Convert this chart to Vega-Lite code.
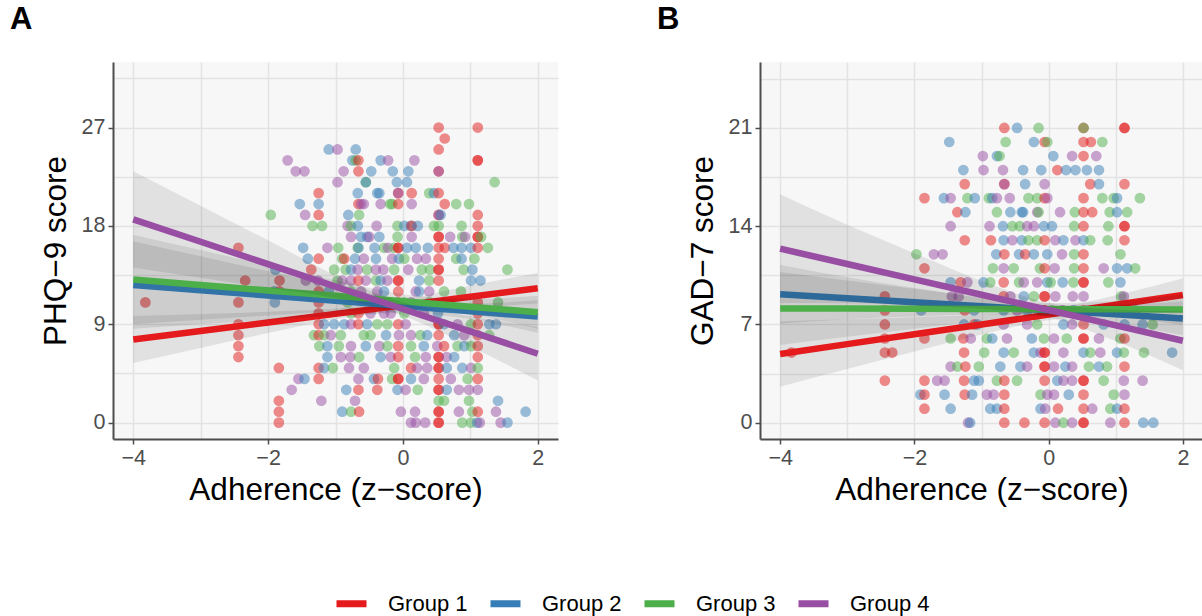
{
"$schema": "https://vega.github.io/schema/vega-lite/v6.json",
"background": "white",
"padding": {"left": 10, "top": 4, "right": 0, "bottom": 0},
"spacing": 99,
"config": {
  "font": "Liberation Sans",
  "view": {"stroke": null, "fill": "#f7f7f7"},
  "axis": {"domainColor": "#4d4d4d", "domainWidth": 2, "tickColor": "#4d4d4d", "tickWidth": 1.5, "tickSize": 5,
           "labelFontSize": 21.5, "labelColor": "#4d4d4d", "labelPadding": 3, "labelOverlap": false, "labelFlush": false,
           "titleFontSize": 31.5, "titleFontWeight": "normal", "titleColor": "black",
           "gridColor": "#e3e3e3", "gridWidth": 1.5},
  "axisX": {"titlePadding": 6},
  "axisY": {"titlePadding": 9},
  "title": {"fontSize": 31, "fontWeight": "bold", "color": "black", "anchor": "start", "frame": "bounds"}
},
"datasets": {
"ptsA": [
{"x":0.53,"y":27,"g":1},{"x":1.11,"y":27,"g":1},{"x":0.62,"y":26,"g":1},
{"x":-1.10,"y":25,"g":2},{"x":-0.97,"y":25,"g":4},{"x":-0.70,"y":25,"g":2},{"x":0.53,"y":25,"g":1},
{"x":-1.71,"y":24,"g":4},{"x":-0.75,"y":24,"g":2},{"x":-0.70,"y":24,"g":3},{"x":-0.66,"y":24,"g":1},{"x":-0.33,"y":24,"g":2},{"x":-0.22,"y":24,"g":4},{"x":0.17,"y":24,"g":4},{"x":1.11,"y":24,"g":1},{"x":1.11,"y":24,"g":1},
{"x":-1.59,"y":23,"g":4},{"x":-1.46,"y":23,"g":4},{"x":-0.88,"y":23,"g":4},{"x":-0.66,"y":23,"g":1},{"x":-0.47,"y":23,"g":2},{"x":-0.15,"y":23,"g":2},{"x":0.08,"y":23,"g":2},{"x":0.53,"y":23,"g":1},{"x":0.53,"y":23,"g":4},
{"x":-0.97,"y":22,"g":4},{"x":-0.55,"y":22,"g":3},{"x":-0.55,"y":22,"g":2},{"x":-0.09,"y":22,"g":2},{"x":0.06,"y":22,"g":2},{"x":1.36,"y":22,"g":3},
{"x":-1.25,"y":21,"g":1},{"x":-0.67,"y":21,"g":2},{"x":-0.38,"y":21,"g":2},{"x":-0.35,"y":21,"g":2},{"x":-0.07,"y":21,"g":1},{"x":-0.07,"y":21,"g":4},{"x":0.13,"y":21,"g":1},{"x":0.39,"y":21,"g":3},{"x":0.46,"y":21,"g":2},{"x":0.53,"y":21,"g":1},
{"x":-1.53,"y":20,"g":2},{"x":-1.25,"y":20,"g":2},{"x":-0.66,"y":20,"g":1},{"x":-0.62,"y":20,"g":4},{"x":-0.58,"y":20,"g":4},{"x":-0.33,"y":20,"g":4},{"x":-0.19,"y":20,"g":3},{"x":-0.16,"y":20,"g":3},{"x":-0.07,"y":20,"g":1},{"x":0.13,"y":20,"g":4},{"x":0.62,"y":20,"g":1},{"x":0.79,"y":20,"g":3},{"x":0.98,"y":20,"g":3},
{"x":-1.96,"y":19,"g":3},{"x":-1.45,"y":19,"g":4},{"x":-1.25,"y":19,"g":1},{"x":-0.81,"y":19,"g":2},{"x":-0.65,"y":19,"g":3},{"x":0.53,"y":19,"g":1},{"x":0.53,"y":19,"g":4},{"x":0.56,"y":19,"g":2},{"x":1.11,"y":19,"g":1},
{"x":-1.34,"y":18,"g":3},{"x":-1.20,"y":18,"g":3},{"x":-0.82,"y":18,"g":4},{"x":-0.77,"y":18,"g":3},{"x":-0.67,"y":18,"g":2},{"x":-0.39,"y":18,"g":4},{"x":-0.08,"y":18,"g":3},{"x":0.02,"y":18,"g":2},{"x":0.12,"y":18,"g":2},{"x":0.13,"y":18,"g":1},{"x":0.22,"y":18,"g":2},{"x":0.46,"y":18,"g":3},{"x":0.53,"y":18,"g":3},{"x":0.87,"y":18,"g":3},{"x":1.11,"y":18,"g":1},
{"x":-0.77,"y":17,"g":4},{"x":-0.62,"y":17,"g":2},{"x":-0.53,"y":17,"g":2},{"x":-0.50,"y":17,"g":4},{"x":-0.35,"y":17,"g":2},{"x":-0.08,"y":17,"g":3},{"x":0.13,"y":17,"g":4},{"x":0.53,"y":17,"g":1},{"x":0.53,"y":17,"g":1},{"x":0.70,"y":17,"g":4},{"x":0.88,"y":17,"g":3},{"x":0.92,"y":17,"g":4},{"x":1.11,"y":17,"g":1},{"x":1.11,"y":17,"g":1},{"x":1.16,"y":17,"g":3},
{"x":-2.44,"y":16,"g":1},{"x":-1.48,"y":16,"g":2},{"x":-1.12,"y":16,"g":4},{"x":-0.96,"y":16,"g":3},{"x":-0.67,"y":16,"g":3},{"x":-0.66,"y":16,"g":2},{"x":-0.42,"y":16,"g":2},{"x":-0.28,"y":16,"g":3},{"x":-0.22,"y":16,"g":4},{"x":-0.13,"y":16,"g":3},{"x":-0.07,"y":16,"g":1},{"x":-0.07,"y":16,"g":1},{"x":0.06,"y":16,"g":2},{"x":0.19,"y":16,"g":2},{"x":0.37,"y":16,"g":2},{"x":0.53,"y":16,"g":1},{"x":0.62,"y":16,"g":1},{"x":0.75,"y":16,"g":2},{"x":0.87,"y":16,"g":2},{"x":1.01,"y":16,"g":2},{"x":1.11,"y":16,"g":1},{"x":1.26,"y":16,"g":3},
{"x":-1.41,"y":15,"g":2},{"x":-1.25,"y":15,"g":1},{"x":-0.90,"y":15,"g":3},{"x":-0.87,"y":15,"g":1},{"x":-0.71,"y":15,"g":2},{"x":-0.58,"y":15,"g":4},{"x":-0.40,"y":15,"g":2},{"x":-0.16,"y":15,"g":4},{"x":-0.06,"y":15,"g":2},{"x":0.02,"y":15,"g":3},{"x":0.21,"y":15,"g":4},{"x":0.34,"y":15,"g":4},{"x":0.53,"y":15,"g":1},{"x":0.79,"y":15,"g":3},{"x":0.87,"y":15,"g":2},{"x":1.06,"y":15,"g":3},
{"x":-1.89,"y":14,"g":2},{"x":-1.36,"y":14,"g":1},{"x":-1.02,"y":14,"g":3},{"x":-0.85,"y":14,"g":3},{"x":-0.77,"y":14,"g":2},{"x":-0.67,"y":14,"g":4},{"x":-0.53,"y":14,"g":3},{"x":-0.40,"y":14,"g":4},{"x":-0.29,"y":14,"g":4},{"x":-0.13,"y":14,"g":3},{"x":0.08,"y":14,"g":4},{"x":0.28,"y":14,"g":3},{"x":0.40,"y":14,"g":3},{"x":0.53,"y":14,"g":1},{"x":0.53,"y":14,"g":1},{"x":0.90,"y":14,"g":3},{"x":1.03,"y":14,"g":2},{"x":1.55,"y":14,"g":3},
{"x":-2.34,"y":13,"g":1},{"x":-1.83,"y":13,"g":1},{"x":-1.44,"y":13,"g":4},{"x":-1.26,"y":13,"g":4},{"x":-0.97,"y":13,"g":3},{"x":-0.90,"y":13,"g":4},{"x":-0.77,"y":13,"g":4},{"x":-0.66,"y":13,"g":1},{"x":-0.55,"y":13,"g":4},{"x":-0.40,"y":13,"g":3},{"x":-0.33,"y":13,"g":2},{"x":-0.23,"y":13,"g":4},{"x":-0.07,"y":13,"g":1},{"x":-0.07,"y":13,"g":1},{"x":0.24,"y":13,"g":2},{"x":0.39,"y":13,"g":3},{"x":0.53,"y":13,"g":1},{"x":1.01,"y":13,"g":2},{"x":1.15,"y":13,"g":2},
{"x":-1.91,"y":12,"g":2},{"x":-1.83,"y":12,"g":1},{"x":-1.25,"y":12,"g":1},{"x":-1.10,"y":12,"g":2},{"x":-0.77,"y":12,"g":3},{"x":-0.62,"y":12,"g":4},{"x":-0.38,"y":12,"g":4},{"x":-0.28,"y":12,"g":2},{"x":-0.07,"y":12,"g":1},{"x":0.19,"y":12,"g":4},{"x":0.24,"y":12,"g":2},{"x":0.39,"y":12,"g":4},{"x":0.61,"y":12,"g":3},{"x":0.86,"y":12,"g":3},
{"x":-3.82,"y":11,"g":1},{"x":-2.44,"y":11,"g":1},{"x":-1.90,"y":11,"g":2},{"x":-1.25,"y":11,"g":1},{"x":-0.82,"y":11,"g":3},{"x":-0.38,"y":11,"g":1},{"x":-0.07,"y":11,"g":1},{"x":0.02,"y":11,"g":3},{"x":0.12,"y":11,"g":4},{"x":0.39,"y":11,"g":3},{"x":0.61,"y":11,"g":4},{"x":1.11,"y":11,"g":1},{"x":1.41,"y":11,"g":3},
{"x":-1.25,"y":10,"g":1},{"x":-0.77,"y":10,"g":3},{"x":-0.66,"y":10,"g":1},{"x":-0.48,"y":10,"g":4},{"x":-0.28,"y":10,"g":4},{"x":-0.18,"y":10,"g":4},{"x":0.02,"y":10,"g":3},{"x":0.31,"y":10,"g":4},{"x":0.52,"y":10,"g":2},{"x":1.11,"y":10,"g":1},
{"x":-2.44,"y":9,"g":1},{"x":-1.25,"y":9,"g":1},{"x":-1.17,"y":9,"g":2},{"x":-1.02,"y":9,"g":2},{"x":-0.87,"y":9,"g":2},{"x":-0.77,"y":9,"g":4},{"x":-0.66,"y":9,"g":1},{"x":-0.53,"y":9,"g":2},{"x":-0.38,"y":9,"g":3},{"x":-0.23,"y":9,"g":3},{"x":-0.07,"y":9,"g":1},{"x":0.04,"y":9,"g":4},{"x":0.53,"y":9,"g":1},{"x":0.53,"y":9,"g":1},{"x":0.61,"y":9,"g":2},{"x":0.81,"y":9,"g":4},{"x":1.01,"y":9,"g":3},{"x":1.11,"y":9,"g":1},{"x":1.28,"y":9,"g":2},{"x":1.38,"y":9,"g":2},
{"x":-2.44,"y":8,"g":1},{"x":-1.32,"y":8,"g":3},{"x":-1.25,"y":8,"g":1},{"x":-1.17,"y":8,"g":3},{"x":-1.07,"y":8,"g":4},{"x":-0.92,"y":8,"g":3},{"x":-0.58,"y":8,"g":3},{"x":-0.48,"y":8,"g":3},{"x":-0.25,"y":8,"g":2},{"x":-0.06,"y":8,"g":4},{"x":0.12,"y":8,"g":4},{"x":0.26,"y":8,"g":3},{"x":0.36,"y":8,"g":2},{"x":0.53,"y":8,"g":1},{"x":0.76,"y":8,"g":2},{"x":0.91,"y":8,"g":4},{"x":1.11,"y":8,"g":1},{"x":1.28,"y":8,"g":3},
{"x":-2.44,"y":7,"g":1},{"x":-1.24,"y":7,"g":3},{"x":-1.12,"y":7,"g":2},{"x":-0.95,"y":7,"g":3},{"x":-0.77,"y":7,"g":4},{"x":-0.55,"y":7,"g":2},{"x":-0.35,"y":7,"g":4},{"x":-0.23,"y":7,"g":3},{"x":-0.07,"y":7,"g":1},{"x":0.12,"y":7,"g":3},{"x":0.31,"y":7,"g":2},{"x":0.51,"y":7,"g":4},{"x":0.61,"y":7,"g":1},{"x":0.81,"y":7,"g":3},{"x":0.91,"y":7,"g":2},{"x":1.01,"y":7,"g":3},{"x":1.11,"y":7,"g":1},
{"x":-2.44,"y":6,"g":1},{"x":-1.12,"y":6,"g":2},{"x":-0.92,"y":6,"g":4},{"x":-0.78,"y":6,"g":4},{"x":-0.65,"y":6,"g":3},{"x":-0.33,"y":6,"g":2},{"x":-0.18,"y":6,"g":4},{"x":-0.07,"y":6,"g":1},{"x":0.18,"y":6,"g":3},{"x":0.34,"y":6,"g":4},{"x":0.53,"y":6,"g":1},{"x":0.53,"y":6,"g":1},{"x":0.65,"y":6,"g":4},{"x":0.76,"y":6,"g":2},{"x":1.11,"y":6,"g":1},
{"x":-1.84,"y":5,"g":1},{"x":-1.25,"y":5,"g":1},{"x":-1.17,"y":5,"g":2},{"x":-1.04,"y":5,"g":3},{"x":-0.80,"y":5,"g":4},{"x":-0.58,"y":5,"g":4},{"x":-0.13,"y":5,"g":3},{"x":0.12,"y":5,"g":1},{"x":0.21,"y":5,"g":4},{"x":0.36,"y":5,"g":4},{"x":0.53,"y":5,"g":1},{"x":0.53,"y":5,"g":1},{"x":0.65,"y":5,"g":2},{"x":0.88,"y":5,"g":2},{"x":1.01,"y":5,"g":4},{"x":1.11,"y":5,"g":3},
{"x":-1.55,"y":4,"g":4},{"x":-1.46,"y":4,"g":2},{"x":-1.25,"y":4,"g":1},{"x":-0.66,"y":4,"g":4},{"x":-0.43,"y":4,"g":2},{"x":-0.37,"y":4,"g":1},{"x":-0.16,"y":4,"g":3},{"x":-0.07,"y":4,"g":1},{"x":-0.07,"y":4,"g":1},{"x":0.12,"y":4,"g":2},{"x":0.31,"y":4,"g":4},{"x":0.53,"y":4,"g":1},{"x":0.71,"y":4,"g":4},{"x":0.96,"y":4,"g":3},{"x":1.11,"y":4,"g":1},
{"x":-1.65,"y":3,"g":4},{"x":-0.84,"y":3,"g":2},{"x":-0.66,"y":3,"g":1},{"x":-0.38,"y":3,"g":1},{"x":-0.08,"y":3,"g":2},{"x":0.04,"y":3,"g":4},{"x":0.22,"y":3,"g":3},{"x":0.53,"y":3,"g":1},{"x":0.53,"y":3,"g":1},{"x":0.65,"y":3,"g":2},{"x":0.83,"y":3,"g":4},{"x":0.98,"y":3,"g":4},{"x":1.11,"y":3,"g":4},
{"x":-1.84,"y":2,"g":1},{"x":-1.21,"y":2,"g":4},{"x":-0.71,"y":2,"g":4},{"x":0.53,"y":2,"g":3},{"x":0.61,"y":2,"g":3},{"x":0.98,"y":2,"g":3},{"x":1.41,"y":2,"g":2},
{"x":-1.84,"y":1,"g":1},{"x":-0.90,"y":1,"g":2},{"x":-0.77,"y":1,"g":3},{"x":-0.65,"y":1,"g":1},{"x":-0.03,"y":1,"g":4},{"x":0.18,"y":1,"g":4},{"x":0.53,"y":1,"g":1},{"x":0.53,"y":1,"g":1},{"x":0.83,"y":1,"g":4},{"x":1.03,"y":1,"g":3},{"x":1.11,"y":1,"g":1},{"x":1.38,"y":1,"g":4},{"x":1.82,"y":1,"g":2},
{"x":-1.84,"y":0,"g":1},{"x":0.12,"y":0,"g":4},{"x":0.19,"y":0,"g":4},{"x":0.33,"y":0,"g":4},{"x":0.53,"y":0,"g":1},{"x":0.53,"y":0,"g":1},{"x":0.88,"y":0,"g":3},{"x":1.01,"y":0,"g":3},{"x":1.10,"y":0,"g":2},{"x":1.14,"y":0,"g":4},{"x":1.45,"y":0,"g":4},{"x":1.55,"y":0,"g":2}
],
"ptsB": [
{"x":-0.66,"y":21,"g":1},{"x":-0.47,"y":21,"g":2},{"x":-0.15,"y":21,"g":3},{"x":0.52,"y":21,"g":1},{"x":0.52,"y":21,"g":3},{"x":1.13,"y":21,"g":1},{"x":1.13,"y":21,"g":1},
{"x":-1.48,"y":20,"g":2},{"x":-0.64,"y":20,"g":3},{"x":-0.22,"y":20,"g":2},{"x":-0.06,"y":20,"g":1},{"x":-0.02,"y":20,"g":3},{"x":0.52,"y":20,"g":1},{"x":0.63,"y":20,"g":1},{"x":0.80,"y":20,"g":3},
{"x":-0.98,"y":19,"g":4},{"x":-0.77,"y":19,"g":2},{"x":-0.73,"y":19,"g":3},{"x":0.07,"y":19,"g":2},{"x":0.35,"y":19,"g":4},{"x":0.52,"y":19,"g":1},{"x":0.71,"y":19,"g":4},
{"x":-1.27,"y":18,"g":2},{"x":-0.97,"y":18,"g":4},{"x":-0.68,"y":18,"g":4},{"x":-0.38,"y":18,"g":2},{"x":-0.11,"y":18,"g":2},{"x":0.13,"y":18,"g":1},{"x":0.26,"y":18,"g":2},{"x":0.40,"y":18,"g":2},{"x":0.57,"y":18,"g":2},{"x":0.75,"y":18,"g":2},
{"x":-1.25,"y":17,"g":1},{"x":-0.66,"y":17,"g":1},{"x":-0.66,"y":17,"g":4},{"x":-0.35,"y":17,"g":2},{"x":-0.06,"y":17,"g":4},{"x":0.62,"y":17,"g":1},{"x":0.75,"y":17,"g":2},{"x":1.13,"y":17,"g":1},
{"x":-1.85,"y":16,"g":1},{"x":-1.56,"y":16,"g":2},{"x":-1.46,"y":16,"g":4},{"x":-1.21,"y":16,"g":3},{"x":-1.10,"y":16,"g":2},{"x":-0.89,"y":16,"g":3},{"x":-0.84,"y":16,"g":2},{"x":-0.77,"y":16,"g":4},{"x":-0.58,"y":16,"g":4},{"x":-0.30,"y":16,"g":3},{"x":-0.17,"y":16,"g":3},{"x":-0.06,"y":16,"g":1},{"x":-0.02,"y":16,"g":4},{"x":0.52,"y":16,"g":1},{"x":0.80,"y":16,"g":3},{"x":0.97,"y":16,"g":3},{"x":1.02,"y":16,"g":2},{"x":1.36,"y":16,"g":3},
{"x":-1.36,"y":15,"g":1},{"x":-1.24,"y":15,"g":2},{"x":-0.77,"y":15,"g":3},{"x":-0.57,"y":15,"g":2},{"x":-0.40,"y":15,"g":2},{"x":-0.38,"y":15,"g":2},{"x":-0.17,"y":15,"g":4},{"x":-0.15,"y":15,"g":3},{"x":0.17,"y":15,"g":4},{"x":0.39,"y":15,"g":3},{"x":0.52,"y":15,"g":1},{"x":0.65,"y":15,"g":1},{"x":0.91,"y":15,"g":3},{"x":1.02,"y":15,"g":2},{"x":1.17,"y":15,"g":3},
{"x":-1.46,"y":14,"g":4},{"x":-0.88,"y":14,"g":4},{"x":-0.68,"y":14,"g":2},{"x":-0.54,"y":14,"g":3},{"x":-0.43,"y":14,"g":3},{"x":-0.32,"y":14,"g":4},{"x":-0.22,"y":14,"g":4},{"x":-0.07,"y":14,"g":2},{"x":0.05,"y":14,"g":2},{"x":0.38,"y":14,"g":3},{"x":0.52,"y":14,"g":1},{"x":0.89,"y":14,"g":3},{"x":1.13,"y":14,"g":1},{"x":1.13,"y":14,"g":1},
{"x":-1.25,"y":13,"g":1},{"x":-0.86,"y":13,"g":1},{"x":-0.67,"y":13,"g":2},{"x":-0.54,"y":13,"g":4},{"x":-0.40,"y":13,"g":2},{"x":-0.30,"y":13,"g":3},{"x":-0.17,"y":13,"g":3},{"x":-0.06,"y":13,"g":1},{"x":0.10,"y":13,"g":4},{"x":0.22,"y":13,"g":2},{"x":0.40,"y":13,"g":4},{"x":0.52,"y":13,"g":2},{"x":0.62,"y":13,"g":3},{"x":0.88,"y":13,"g":3},{"x":1.13,"y":13,"g":1},
{"x":-1.97,"y":12,"g":3},{"x":-1.71,"y":12,"g":4},{"x":-1.58,"y":12,"g":4},{"x":-0.78,"y":12,"g":2},{"x":-0.66,"y":12,"g":1},{"x":-0.44,"y":12,"g":2},{"x":-0.35,"y":12,"g":1},{"x":-0.22,"y":12,"g":2},{"x":-0.02,"y":12,"g":2},{"x":0.20,"y":12,"g":4},{"x":0.38,"y":12,"g":3},{"x":0.52,"y":12,"g":1},{"x":1.07,"y":12,"g":3},
{"x":-1.85,"y":11,"g":1},{"x":-0.83,"y":11,"g":3},{"x":-0.67,"y":11,"g":4},{"x":-0.52,"y":11,"g":3},{"x":-0.13,"y":11,"g":3},{"x":-0.06,"y":11,"g":1},{"x":0.09,"y":11,"g":4},{"x":0.38,"y":11,"g":3},{"x":0.52,"y":11,"g":1},{"x":0.82,"y":11,"g":4},{"x":1.02,"y":11,"g":2},{"x":1.17,"y":11,"g":2},{"x":1.29,"y":11,"g":3},
{"x":-1.46,"y":10,"g":2},{"x":-1.31,"y":10,"g":1},{"x":-1.21,"y":10,"g":4},{"x":-0.97,"y":10,"g":2},{"x":-0.87,"y":10,"g":3},{"x":-0.67,"y":10,"g":1},{"x":-0.44,"y":10,"g":3},{"x":-0.37,"y":10,"g":4},{"x":-0.17,"y":10,"g":4},{"x":-0.02,"y":10,"g":2},{"x":0.03,"y":10,"g":3},{"x":0.21,"y":10,"g":2},{"x":0.37,"y":10,"g":3},{"x":0.52,"y":10,"g":1},{"x":0.52,"y":10,"g":1},{"x":0.89,"y":10,"g":3},{"x":1.07,"y":10,"g":2},
{"x":-2.44,"y":9,"g":1},{"x":-1.44,"y":9,"g":4},{"x":-1.34,"y":9,"g":4},{"x":-0.67,"y":9,"g":1},{"x":-0.57,"y":9,"g":4},{"x":-0.37,"y":9,"g":2},{"x":-0.22,"y":9,"g":3},{"x":-0.06,"y":9,"g":1},{"x":-0.06,"y":9,"g":1},{"x":0.10,"y":9,"g":4},{"x":0.36,"y":9,"g":4},{"x":0.52,"y":9,"g":4},{"x":1.08,"y":9,"g":3},{"x":1.12,"y":9,"g":4},
{"x":-2.44,"y":8,"g":1},{"x":-1.90,"y":8,"g":2},{"x":-1.25,"y":8,"g":1},{"x":-1.11,"y":8,"g":2},{"x":-0.67,"y":8,"g":2},{"x":-0.47,"y":8,"g":4},{"x":-0.32,"y":8,"g":2},{"x":-0.06,"y":8,"g":1},{"x":-0.06,"y":8,"g":1},{"x":0.05,"y":8,"g":3},{"x":0.21,"y":8,"g":4},{"x":0.37,"y":8,"g":2},{"x":0.52,"y":8,"g":1},{"x":0.67,"y":8,"g":1},{"x":0.88,"y":8,"g":2},{"x":1.12,"y":8,"g":3},{"x":1.29,"y":8,"g":3},
{"x":-2.44,"y":7,"g":1},{"x":-1.26,"y":7,"g":2},{"x":-1.11,"y":7,"g":1},{"x":-1.06,"y":7,"g":2},{"x":-0.67,"y":7,"g":4},{"x":-0.32,"y":7,"g":4},{"x":-0.17,"y":7,"g":3},{"x":0.22,"y":7,"g":2},{"x":0.35,"y":7,"g":4},{"x":0.52,"y":7,"g":1},{"x":0.82,"y":7,"g":2},{"x":1.13,"y":7,"g":2},{"x":1.40,"y":7,"g":2},{"x":1.55,"y":7,"g":3},
{"x":-2.44,"y":6,"g":1},{"x":-1.85,"y":6,"g":1},{"x":-1.46,"y":6,"g":3},{"x":-1.27,"y":6,"g":1},{"x":-1.16,"y":6,"g":4},{"x":-0.92,"y":6,"g":3},{"x":-0.84,"y":6,"g":2},{"x":-0.62,"y":6,"g":4},{"x":-0.25,"y":6,"g":2},{"x":-0.07,"y":6,"g":3},{"x":0.08,"y":6,"g":4},{"x":0.27,"y":6,"g":3},{"x":0.52,"y":6,"g":1},{"x":0.52,"y":6,"g":1},{"x":0.75,"y":6,"g":4},{"x":1.07,"y":6,"g":3},{"x":1.13,"y":6,"g":1},
{"x":-3.83,"y":5,"g":1},{"x":-2.44,"y":5,"g":1},{"x":-2.33,"y":5,"g":1},{"x":-1.26,"y":5,"g":1},{"x":-0.96,"y":5,"g":3},{"x":-0.67,"y":5,"g":2},{"x":-0.52,"y":5,"g":3},{"x":-0.22,"y":5,"g":2},{"x":-0.12,"y":5,"g":4},{"x":-0.06,"y":5,"g":1},{"x":-0.06,"y":5,"g":1},{"x":0.22,"y":5,"g":4},{"x":0.52,"y":5,"g":2},{"x":0.62,"y":5,"g":3},{"x":0.77,"y":5,"g":4},{"x":1.02,"y":5,"g":2},{"x":1.12,"y":5,"g":3},{"x":1.42,"y":5,"g":3},{"x":1.84,"y":5,"g":2},
{"x":-1.46,"y":4,"g":4},{"x":-1.36,"y":4,"g":3},{"x":-1.24,"y":4,"g":1},{"x":-1.04,"y":4,"g":3},{"x":-0.72,"y":4,"g":2},{"x":-0.42,"y":4,"g":2},{"x":-0.32,"y":4,"g":4},{"x":-0.06,"y":4,"g":1},{"x":-0.06,"y":4,"g":1},{"x":0.08,"y":4,"g":4},{"x":0.25,"y":4,"g":2},{"x":0.35,"y":4,"g":4},{"x":0.60,"y":4,"g":3},{"x":0.75,"y":4,"g":2},{"x":0.87,"y":4,"g":3},{"x":1.13,"y":4,"g":1},
{"x":-2.44,"y":3,"g":1},{"x":-1.85,"y":3,"g":1},{"x":-1.66,"y":3,"g":4},{"x":-1.55,"y":3,"g":4},{"x":-1.26,"y":3,"g":1},{"x":-1.11,"y":3,"g":2},{"x":-1.04,"y":3,"g":2},{"x":-0.77,"y":3,"g":3},{"x":-0.66,"y":3,"g":1},{"x":-0.47,"y":3,"g":3},{"x":-0.06,"y":3,"g":1},{"x":0.13,"y":3,"g":2},{"x":0.22,"y":3,"g":4},{"x":0.35,"y":3,"g":4},{"x":0.52,"y":3,"g":1},{"x":0.52,"y":3,"g":1},{"x":0.82,"y":3,"g":3},{"x":1.12,"y":3,"g":4},{"x":1.40,"y":3,"g":4},
{"x":-1.91,"y":2,"g":2},{"x":-1.85,"y":2,"g":1},{"x":-1.55,"y":2,"g":2},{"x":-1.25,"y":2,"g":1},{"x":-1.14,"y":2,"g":2},{"x":-0.92,"y":2,"g":4},{"x":-0.82,"y":2,"g":4},{"x":-0.66,"y":2,"g":1},{"x":-0.12,"y":2,"g":3},{"x":-0.02,"y":2,"g":4},{"x":0.08,"y":2,"g":4},{"x":0.30,"y":2,"g":2},{"x":0.52,"y":2,"g":1},{"x":0.97,"y":2,"g":3},{"x":1.13,"y":2,"g":4},
{"x":-1.85,"y":1,"g":1},{"x":-1.46,"y":1,"g":2},{"x":-0.87,"y":1,"g":2},{"x":-0.77,"y":1,"g":2},{"x":-0.66,"y":1,"g":1},{"x":-0.12,"y":1,"g":2},{"x":-0.05,"y":1,"g":4},{"x":0.14,"y":1,"g":1},{"x":0.52,"y":1,"g":1},{"x":0.65,"y":1,"g":4},{"x":0.92,"y":1,"g":3},{"x":1.02,"y":1,"g":2},{"x":1.13,"y":1,"g":1},
{"x":-1.20,"y":0,"g":4},{"x":-1.17,"y":0,"g":2},{"x":-0.66,"y":0,"g":1},{"x":-0.36,"y":0,"g":1},{"x":-0.06,"y":0,"g":1},{"x":0.10,"y":0,"g":4},{"x":0.22,"y":0,"g":3},{"x":0.35,"y":0,"g":4},{"x":0.52,"y":0,"g":1},{"x":0.52,"y":0,"g":1},{"x":0.92,"y":0,"g":4},{"x":1.13,"y":0,"g":1},{"x":1.41,"y":0,"g":2},{"x":1.56,"y":0,"g":2}
],
"fitA": [
{"g":1,"x":-4,"f":7.6,"lo":5.45,"hi":9.75},{"g":1,"x":-3,"f":8.38,"lo":6.83,"hi":9.93},{"g":1,"x":-2,"f":9.17,"lo":8.19,"hi":10.15},{"g":1,"x":-1,"f":9.95,"lo":9.46,"hi":10.44},{"g":1,"x":0,"f":10.73,"lo":10.21,"hi":11.25},{"g":1,"x":1,"f":11.52,"lo":10.5,"hi":12.54},{"g":1,"x":2,"f":12.3,"lo":10.9,"hi":13.7},
{"g":2,"x":-4,"f":12.6,"lo":8.6,"hi":16.6},{"g":2,"x":-3,"f":12.12,"lo":9.01,"hi":15.23},{"g":2,"x":-2,"f":11.63,"lo":9.4,"hi":13.86},{"g":2,"x":-1,"f":11.15,"lo":9.77,"hi":12.53},{"g":2,"x":0,"f":10.67,"lo":10.04,"hi":11.3},{"g":2,"x":1,"f":10.18,"lo":9.47,"hi":10.89},{"g":2,"x":2,"f":9.7,"lo":8.2,"hi":11.2},
{"g":3,"x":-4,"f":13.1,"lo":9.0,"hi":17.2},{"g":3,"x":-3,"f":12.6,"lo":9.41,"hi":15.79},{"g":3,"x":-2,"f":12.1,"lo":9.8,"hi":14.4},{"g":3,"x":-1,"f":11.6,"lo":10.18,"hi":13.02},{"g":3,"x":0,"f":11.1,"lo":10.45,"hi":11.75},{"g":3,"x":1,"f":10.6,"lo":9.89,"hi":11.31},{"g":3,"x":2,"f":10.1,"lo":8.6,"hi":11.6},
{"g":4,"x":-4,"f":18.6,"lo":14.2,"hi":23.0},{"g":4,"x":-3,"f":16.55,"lo":13.26,"hi":19.84},{"g":4,"x":-2,"f":14.5,"lo":12.32,"hi":16.68},{"g":4,"x":-1,"f":12.45,"lo":11.41,"hi":13.49},{"g":4,"x":0,"f":10.4,"lo":9.79,"hi":11.01},{"g":4,"x":1,"f":8.35,"lo":6.96,"hi":9.74},{"g":4,"x":2,"f":6.3,"lo":3.85,"hi":8.75}
],
"fitB": [
{"g":1,"x":-4,"f":4.9,"lo":2.57,"hi":7.23},{"g":1,"x":-3,"f":5.6,"lo":3.83,"hi":7.37},{"g":1,"x":-2,"f":6.3,"lo":5.08,"hi":7.52},{"g":1,"x":-1,"f":7.0,"lo":6.29,"hi":7.71},{"g":1,"x":0,"f":7.7,"lo":7.3,"hi":8.1},{"g":1,"x":1,"f":8.4,"lo":7.71,"hi":9.09},{"g":1,"x":2,"f":9.1,"lo":7.9,"hi":10.3},
{"g":2,"x":-4,"f":9.16,"lo":7.06,"hi":11.26},{"g":2,"x":-3,"f":8.87,"lo":7.38,"hi":10.36},{"g":2,"x":-2,"f":8.58,"lo":7.56,"hi":9.6},{"g":2,"x":-1,"f":8.3,"lo":7.71,"hi":8.89},{"g":2,"x":0,"f":8.01,"lo":7.61,"hi":8.41},{"g":2,"x":1,"f":7.72,"lo":7.03,"hi":8.41},{"g":2,"x":2,"f":7.43,"lo":6.23,"hi":8.63},
{"g":3,"x":-4,"f":8.14,"lo":5.54,"hi":10.74},{"g":3,"x":-3,"f":8.13,"lo":6.12,"hi":10.14},{"g":3,"x":-2,"f":8.12,"lo":6.69,"hi":9.55},{"g":3,"x":-1,"f":8.11,"lo":7.24,"hi":8.98},{"g":3,"x":0,"f":8.09,"lo":7.65,"hi":8.53},{"g":3,"x":1,"f":8.08,"lo":7.5,"hi":8.66},{"g":3,"x":2,"f":8.07,"lo":6.97,"hi":9.17},
{"g":4,"x":-4,"f":12.4,"lo":8.53,"hi":16.27},{"g":4,"x":-3,"f":11.31,"lo":8.52,"hi":14.1},{"g":4,"x":-2,"f":10.21,"lo":8.34,"hi":12.08},{"g":4,"x":-1,"f":9.12,"lo":8.12,"hi":10.12},{"g":4,"x":0,"f":8.03,"lo":7.52,"hi":8.54},{"g":4,"x":1,"f":6.93,"lo":5.8,"hi":8.06},{"g":4,"x":2,"f":5.84,"lo":3.74,"hi":7.94}
]
},
"hconcat": [
{
 "width": 445, "height": 377,
 "title": {"text": "A", "dx": -30, "offset": 26},
 "layer": [
  {"data": {"name": "ptsA"}, "mark": {"type": "circle", "size": 115, "fillOpacity": 0.5},
   "encoding": {
    "x": {"field": "x", "type": "quantitative", "title": "Adherence (z−score)", "scale": {"domain": [-4.3, 2.3], "nice": false, "zero": false},
          "axis": {"values": [-4,-3,-2,-1,0,1,2], "format": "d", "labelExpr": "datum.value % 2 === 0 ? datum.label : ''",
                   "tickOpacity": {"condition": {"test": "datum.value % 2 === 0", "value": 1}, "value": 0}}},
    "y": {"field": "y", "type": "quantitative", "title": "PHQ−9 score", "scale": {"domain": [-1.5, 33], "nice": false, "zero": false},
          "axis": {"values": [0,4.5,9,13.5,18,22.5,27,31.5], "format": "d", "labelExpr": "datum.value % 9 === 0 ? datum.label : ''",
                   "tickOpacity": {"condition": {"test": "datum.value % 9 === 0", "value": 1}, "value": 0}}},
    "color": {"field": "g", "type": "nominal", "scale": {"domain": [1,2,3,4], "range": ["#E41A1C","#377EB8","#4DAF4A","#984EA3"]},
              "legend": {"orient": "none", "legendX": 220, "legendY": 523, "direction": "horizontal", "title": null,
                         "symbolType": "stroke", "symbolStrokeWidth": 7, "symbolSize": 900, "symbolOpacity": 1,
                         "labelFontSize": 22, "labelColor": "black", "labelOffset": 18, "columnPadding": 8,
                         "labelExpr": "'Group ' + datum.label"}}
   }},
  {"data": {"name": "fitA"}, "transform": [{"filter": "datum.g == 1"}], "layer": [
    {"mark": {"type": "area", "fill": "#000000", "opacity": 0.085, "interpolate": "monotone"},
     "encoding": {"x": {"field": "x", "type": "quantitative", "title": "Adherence (z−score)"}, "y": {"field": "lo", "type": "quantitative", "title": "PHQ−9 score"}, "y2": {"field": "hi"}}},
    {"mark": {"type": "line", "strokeWidth": 6.5},
     "encoding": {"x": {"field": "x", "type": "quantitative", "title": "Adherence (z−score)"}, "y": {"field": "f", "type": "quantitative", "title": "PHQ−9 score"}, "color": {"field": "g", "type": "nominal"}}}
  ]},
  {"data": {"name": "fitA"}, "transform": [{"filter": "datum.g == 2"}], "layer": [
    {"mark": {"type": "area", "fill": "#000000", "opacity": 0.085, "interpolate": "monotone"},
     "encoding": {"x": {"field": "x", "type": "quantitative", "title": "Adherence (z−score)"}, "y": {"field": "lo", "type": "quantitative", "title": "PHQ−9 score"}, "y2": {"field": "hi"}}},
    {"mark": {"type": "line", "strokeWidth": 6.5},
     "encoding": {"x": {"field": "x", "type": "quantitative", "title": "Adherence (z−score)"}, "y": {"field": "f", "type": "quantitative", "title": "PHQ−9 score"}, "color": {"field": "g", "type": "nominal"}}}
  ]},
  {"data": {"name": "fitA"}, "transform": [{"filter": "datum.g == 3"}], "layer": [
    {"mark": {"type": "area", "fill": "#000000", "opacity": 0.085, "interpolate": "monotone"},
     "encoding": {"x": {"field": "x", "type": "quantitative", "title": "Adherence (z−score)"}, "y": {"field": "lo", "type": "quantitative", "title": "PHQ−9 score"}, "y2": {"field": "hi"}}},
    {"mark": {"type": "line", "strokeWidth": 6.5},
     "encoding": {"x": {"field": "x", "type": "quantitative", "title": "Adherence (z−score)"}, "y": {"field": "f", "type": "quantitative", "title": "PHQ−9 score"}, "color": {"field": "g", "type": "nominal"}}}
  ]},
  {"data": {"name": "fitA"}, "transform": [{"filter": "datum.g == 4"}], "layer": [
    {"mark": {"type": "area", "fill": "#000000", "opacity": 0.085, "interpolate": "monotone"},
     "encoding": {"x": {"field": "x", "type": "quantitative", "title": "Adherence (z−score)"}, "y": {"field": "lo", "type": "quantitative", "title": "PHQ−9 score"}, "y2": {"field": "hi"}}},
    {"mark": {"type": "line", "strokeWidth": 6.5},
     "encoding": {"x": {"field": "x", "type": "quantitative", "title": "Adherence (z−score)"}, "y": {"field": "f", "type": "quantitative", "title": "PHQ−9 score"}, "color": {"field": "g", "type": "nominal"}}}
  ]}
 ]
},
{
 "width": 443, "height": 377,
 "title": {"text": "B", "dx": -30, "offset": 26},
 "layer": [
  {"data": {"name": "ptsB"}, "mark": {"type": "circle", "size": 115, "fillOpacity": 0.5},
   "encoding": {
    "x": {"field": "x", "type": "quantitative", "title": "Adherence (z−score)", "scale": {"domain": [-4.3, 2.3], "nice": false, "zero": false},
          "axis": {"values": [-4,-3,-2,-1,0,1,2], "format": "d", "labelExpr": "datum.value % 2 === 0 ? datum.label : ''",
                   "tickOpacity": {"condition": {"test": "datum.value % 2 === 0", "value": 1}, "value": 0}}},
    "y": {"field": "y", "type": "quantitative", "title": "GAD−7 score", "scale": {"domain": [-1.16, 25.7], "nice": false, "zero": false},
          "axis": {"values": [0,3.5,7,10.5,14,17.5,21,24.5], "format": "d", "labelExpr": "datum.value % 7 === 0 ? datum.label : ''",
                   "tickOpacity": {"condition": {"test": "datum.value % 7 === 0", "value": 1}, "value": 0}}},
    "color": {"field": "g", "type": "nominal"}
   }},
  {"data": {"name": "fitB"}, "transform": [{"filter": "datum.g == 1"}], "layer": [
    {"mark": {"type": "area", "fill": "#000000", "opacity": 0.085, "interpolate": "monotone"},
     "encoding": {"x": {"field": "x", "type": "quantitative", "title": "Adherence (z−score)"}, "y": {"field": "lo", "type": "quantitative", "title": "GAD−7 score"}, "y2": {"field": "hi"}}},
    {"mark": {"type": "line", "strokeWidth": 6.5},
     "encoding": {"x": {"field": "x", "type": "quantitative", "title": "Adherence (z−score)"}, "y": {"field": "f", "type": "quantitative", "title": "GAD−7 score"}, "color": {"field": "g", "type": "nominal"}}}
  ]},
  {"data": {"name": "fitB"}, "transform": [{"filter": "datum.g == 2"}], "layer": [
    {"mark": {"type": "area", "fill": "#000000", "opacity": 0.085, "interpolate": "monotone"},
     "encoding": {"x": {"field": "x", "type": "quantitative", "title": "Adherence (z−score)"}, "y": {"field": "lo", "type": "quantitative", "title": "GAD−7 score"}, "y2": {"field": "hi"}}},
    {"mark": {"type": "line", "strokeWidth": 6.5},
     "encoding": {"x": {"field": "x", "type": "quantitative", "title": "Adherence (z−score)"}, "y": {"field": "f", "type": "quantitative", "title": "GAD−7 score"}, "color": {"field": "g", "type": "nominal"}}}
  ]},
  {"data": {"name": "fitB"}, "transform": [{"filter": "datum.g == 3"}], "layer": [
    {"mark": {"type": "area", "fill": "#000000", "opacity": 0.085, "interpolate": "monotone"},
     "encoding": {"x": {"field": "x", "type": "quantitative", "title": "Adherence (z−score)"}, "y": {"field": "lo", "type": "quantitative", "title": "GAD−7 score"}, "y2": {"field": "hi"}}},
    {"mark": {"type": "line", "strokeWidth": 6.5},
     "encoding": {"x": {"field": "x", "type": "quantitative", "title": "Adherence (z−score)"}, "y": {"field": "f", "type": "quantitative", "title": "GAD−7 score"}, "color": {"field": "g", "type": "nominal"}}}
  ]},
  {"data": {"name": "fitB"}, "transform": [{"filter": "datum.g == 4"}], "layer": [
    {"mark": {"type": "area", "fill": "#000000", "opacity": 0.085, "interpolate": "monotone"},
     "encoding": {"x": {"field": "x", "type": "quantitative", "title": "Adherence (z−score)"}, "y": {"field": "lo", "type": "quantitative", "title": "GAD−7 score"}, "y2": {"field": "hi"}}},
    {"mark": {"type": "line", "strokeWidth": 6.5},
     "encoding": {"x": {"field": "x", "type": "quantitative", "title": "Adherence (z−score)"}, "y": {"field": "f", "type": "quantitative", "title": "GAD−7 score"}, "color": {"field": "g", "type": "nominal"}}}
  ]}
 ]
}
]
}
